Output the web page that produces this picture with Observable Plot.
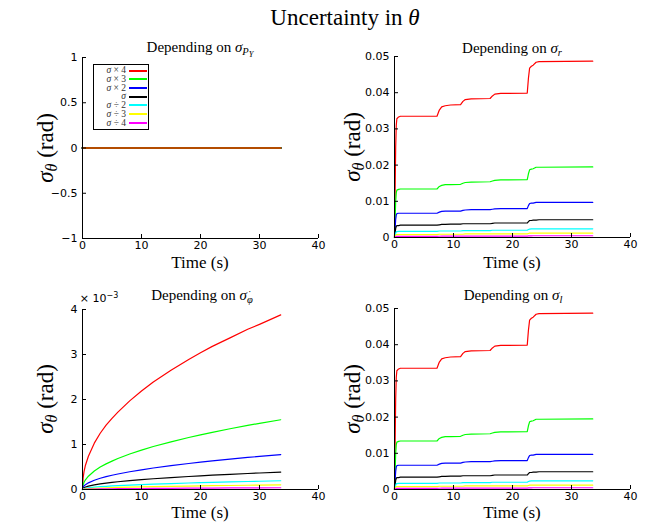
<!DOCTYPE html>
<html><head><meta charset="utf-8">
<script src="https://cdn.jsdelivr.net/npm/d3@7"></script>
<script src="https://cdn.jsdelivr.net/npm/@observablehq/plot@0.6"></script>
<style>
body{margin:0;background:#fff;}
#fig{position:relative;width:650px;height:523px;overflow:hidden;background:#fff;font-family:"Liberation Serif",serif;color:#000;}
.p{position:absolute;}
.t{position:absolute;white-space:nowrap;line-height:1;transform:translate(-50%,-50%);}
.rot{transform:translate(-50%,-50%) rotate(-90deg);}
sub{font-size:0.7em;vertical-align:-0.3em;line-height:0;}
sub sub{font-size:0.8em;vertical-align:-0.25em;}
.dot{position:relative;display:inline-block;}
.dot::after{content:"˙";position:absolute;left:0.1em;top:-0.5em;font-style:normal;}
.leg{position:absolute;border:1px solid #000;background:#fff;box-sizing:border-box;}
.le{position:absolute;font-size:9.5px;line-height:8px;height:8px;color:#333;}
.ll{position:absolute;height:2px;}
</style></head><body><div id="fig"></div><script>
// ---- data ----
const seriesNames = ["σ × 4", "σ × 3", "σ × 2", "σ", "σ ÷ 2", "σ ÷ 3", "σ ÷ 4"];
const seriesColors = ["#ff0000", "#00ff00", "#0000ff", "#000000", "#00ffff", "#ffff00", "#ff00ff"];
const xTicks = [0, 10, 20, 30, 40];

// Panel: depending on sigma_PY (all zero)
const pyTimes = [0, 33.6];
const pyRed = [0, 0], pyGreen = [0, 0], pyBlue = [0, 0], pyBlack = [0, 0],
      pyCyan = [0, 0], pyYellow = [0, 0], pyMagenta = [0, 0];
const pyTicks = [-1, -0.5, 0, 0.5, 1];

// Panel: depending on sigma_r (and sigma_l, which reads identical)
const rTimes = [0, 0.1, 0.2, 0.3, 0.4, 0.7, 1.0, 7.2, 7.6, 8.0, 8.6, 9.5, 11.2, 11.6, 12.0, 13.0, 16.2, 16.6, 17.0, 18.0, 22.5, 22.7, 22.9, 23.2, 23.5, 24.0, 24.5, 33.6];
const rRed = [0, 0.012, 0.025, 0.031, 0.0328, 0.0333, 0.0335, 0.0335, 0.0352, 0.0361, 0.0364, 0.0366, 0.0367, 0.0376, 0.0381, 0.0383, 0.0384, 0.0391, 0.0396, 0.0398, 0.0399, 0.044, 0.0468, 0.0473, 0.0476, 0.0484, 0.0486, 0.0487];
const rGreen = [0, 0.0048, 0.010, 0.0124, 0.0131, 0.0133, 0.0134, 0.0134, 0.0141, 0.0144, 0.0146, 0.0146, 0.0147, 0.0150, 0.0152, 0.0153, 0.0154, 0.0156, 0.0158, 0.0159, 0.0160, 0.0176, 0.0187, 0.0189, 0.0190, 0.0194, 0.0194, 0.0195];
const rBlue = [0, 0.0024, 0.005, 0.0062, 0.0066, 0.0067, 0.0067, 0.0067, 0.0070, 0.0072, 0.0073, 0.0073, 0.0073, 0.0075, 0.0076, 0.0077, 0.0077, 0.0078, 0.0079, 0.0080, 0.0080, 0.0088, 0.0094, 0.0095, 0.0095, 0.0097, 0.0097, 0.0097];
const rBlack = [0, 0.0012, 0.0025, 0.0031, 0.0033, 0.0033, 0.0034, 0.0034, 0.0035, 0.0036, 0.0036, 0.0037, 0.0037, 0.0038, 0.0038, 0.0038, 0.0038, 0.0039, 0.0040, 0.0040, 0.0040, 0.0044, 0.0047, 0.0047, 0.0048, 0.0048, 0.0049, 0.0049];
const rCyan = [0, 0.0006, 0.0012, 0.0016, 0.0016, 0.0017, 0.0017, 0.0017, 0.0018, 0.0018, 0.0018, 0.0018, 0.0018, 0.0019, 0.0019, 0.0019, 0.0019, 0.0020, 0.0020, 0.0020, 0.0020, 0.0022, 0.0023, 0.0024, 0.0024, 0.0024, 0.0024, 0.0024];
const rYellow = [0, 0.0003, 0.0006, 0.0008, 0.0008, 0.0008, 0.0008, 0.0008, 0.0009, 0.0009, 0.0009, 0.0009, 0.0009, 0.0009, 0.0010, 0.0010, 0.0010, 0.0010, 0.0010, 0.0010, 0.0010, 0.0011, 0.0012, 0.0012, 0.0012, 0.0012, 0.0012, 0.0012];
const rMagenta = [0, 0.0001, 0.0002, 0.0003, 0.0003, 0.0003, 0.0003, 0.0003, 0.00035, 0.00036, 0.00036, 0.00037, 0.00037, 0.00038, 0.00038, 0.00038, 0.00038, 0.00039, 0.0004, 0.0004, 0.0004, 0.00044, 0.00047, 0.00047, 0.00048, 0.00048, 0.00049, 0.00049];
const rTicks = [0, 0.01, 0.02, 0.03, 0.04, 0.05];

// Panel: depending on sigma_phidot (values in units of 1e-3 rad)
const phiTimes = [0, 0.1, 0.25, 0.5, 1, 2, 3, 4, 5, 6, 8, 10, 12, 15, 18, 20, 22, 25, 28, 30, 33.6];
const phiRed = [0, 0.25, 0.39, 0.54, 0.74, 1.03, 1.25, 1.43, 1.58, 1.72, 1.97, 2.19, 2.39, 2.65, 2.89, 3.04, 3.18, 3.37, 3.56, 3.67, 3.88];
const phiGreen = [0, 0.10, 0.155, 0.215, 0.295, 0.41, 0.50, 0.57, 0.63, 0.69, 0.79, 0.875, 0.955, 1.06, 1.155, 1.215, 1.27, 1.35, 1.425, 1.47, 1.55];
const phiBlue = [0, 0.05, 0.078, 0.108, 0.148, 0.206, 0.25, 0.286, 0.316, 0.344, 0.394, 0.438, 0.478, 0.53, 0.578, 0.608, 0.636, 0.674, 0.712, 0.734, 0.776];
const phiBlack = [0, 0.025, 0.039, 0.054, 0.074, 0.103, 0.125, 0.143, 0.158, 0.172, 0.197, 0.219, 0.239, 0.265, 0.289, 0.304, 0.318, 0.337, 0.356, 0.367, 0.388];
const phiCyan = [0, 0.012, 0.019, 0.027, 0.037, 0.051, 0.062, 0.071, 0.079, 0.086, 0.098, 0.11, 0.12, 0.132, 0.144, 0.152, 0.159, 0.168, 0.178, 0.183, 0.194];
const phiYellow = [0, 0.007, 0.01, 0.014, 0.02, 0.027, 0.033, 0.038, 0.042, 0.046, 0.052, 0.058, 0.063, 0.07, 0.077, 0.081, 0.084, 0.089, 0.094, 0.097, 0.103];
const phiMagenta = [0, 0.0025, 0.004, 0.0055, 0.0075, 0.0105, 0.0125, 0.0145, 0.016, 0.0175, 0.02, 0.022, 0.024, 0.0265, 0.029, 0.0305, 0.032, 0.034, 0.0355, 0.037, 0.039];
const phiTicks = [0, 1, 2, 3, 4];

// ---- drawing ----
const fig = document.getElementById("fig");
const minus = d => (d < 0 ? "\u2212" : "") + Math.abs(d);

function panel(o) {
  const lineMarks = o.series.map((vals, i) => ({vals, i}));
  const ordered = o.reverse ? lineMarks.slice().reverse() : lineMarks;
  const marks = ordered.map(({vals, i}) =>
    Plot.line(o.times.map((t, k) => ({t, v: vals[k]})), {
      x: "t", y: "v", stroke: seriesColors[i], strokeWidth: o.sw,
      strokeOpacity: (o.reverse && i === 0) ? 0.7 : 1
    }));
  const svg = Plot.plot({
    width: o.width, height: o.height,
    marginLeft: o.ml, marginRight: o.mr, marginTop: o.mt, marginBottom: o.mb,
    x: {domain: [0, 40]},
    y: {domain: o.ydomain},
    style: {fontFamily: "DejaVu Sans", fontSize: "11px", color: "#000", background: "transparent", overflow: "visible"},
    marks: [
      ...marks,
      Plot.ruleX([0], {stroke: "#000"}),
      Plot.ruleY([o.ydomain[0]], {stroke: "#000"}),
      Plot.axisX(xTicks, {tickSize: 4, dy: -4, tickFormat: () => "", label: null}),
      Plot.axisX(xTicks, {tickSize: 0, tickPadding: 3, label: null}),
      Plot.axisY(o.yticks, {tickSize: 4, dx: 4, tickFormat: () => "", label: null}),
      Plot.axisY(o.yticks, {tickSize: 0, tickPadding: 5, tickFormat: o.yfmt, label: null})
    ]
  });
  svg.classList.add("p");
  svg.style.left = o.left + "px";
  svg.style.top = o.top + "px";
  fig.appendChild(svg);
}

panel({left: 0, top: 30, width: 325, height: 245, ml: 82, mr: 7, mt: 27, mb: 37,
  ydomain: [-1, 1], yticks: pyTicks, yfmt: minus, times: pyTimes, sw: 2, reverse: true,
  series: [pyRed, pyGreen, pyBlue, pyBlack, pyCyan, pyYellow, pyMagenta]});
panel({left: 325, top: 30, width: 325, height: 245, ml: 69, mr: 20, mt: 26, mb: 38,
  ydomain: [0, 0.05], yticks: rTicks, yfmt: d => d === 0 ? "0" : d.toFixed(2), times: rTimes, sw: 1.2,
  series: [rRed, rGreen, rBlue, rBlack, rCyan, rYellow, rMagenta]});
panel({left: 0, top: 280, width: 325, height: 243, ml: 82, mr: 7, mt: 29, mb: 34,
  ydomain: [0, 4], yticks: phiTicks, yfmt: d => String(d), times: phiTimes, sw: 1.2,
  series: [phiRed, phiGreen, phiBlue, phiBlack, phiCyan, phiYellow, phiMagenta]});
panel({left: 325, top: 280, width: 325, height: 243, ml: 69, mr: 20, mt: 28, mb: 34,
  ydomain: [0, 0.05], yticks: rTicks, yfmt: d => d === 0 ? "0" : d.toFixed(2), times: rTimes, sw: 1.2,
  series: [rRed, rGreen, rBlue, rBlack, rCyan, rYellow, rMagenta]});

function text(html, x, y, size, cls) {
  const d = document.createElement("div");
  d.className = "t" + (cls ? " " + cls : "");
  d.style.left = x + "px"; d.style.top = y + "px"; d.style.fontSize = size + "px";
  d.innerHTML = html;
  fig.appendChild(d);
  return d;
}
text("Uncertainty in <i>θ</i>", 345, 17, 23);
text("Depending on <i>σ</i><sub><i>P</i><sub><i>Y</i></sub></sub>", 200, 48, 15);
text("Depending on <i>σ</i><sub><i>r</i></sub>", 512, 48, 15);
text("Depending on <i>σ</i><sub><i class='dot'>φ</i></sub>", 202, 295, 15);
text("Depending on <i>σ</i><sub><i>l</i></sub>", 513, 295, 15);
for (const [x, y] of [[200, 262], [512, 262], [200, 512], [512, 512]]) text("Time (s)", x, y, 17);
for (const [x, y] of [[45, 148], [352, 147], [45, 399], [352, 399]]) text("<i>σ</i><sub><i>θ</i></sub> (rad)", x, y, 23, "rot");
const ex = text("× 10<sup style='font-size:8px;vertical-align:4px'>−3</sup>", 99, 298, 11);
ex.style.fontFamily = "DejaVu Sans";

// legend
const leg = document.createElement("div");
leg.className = "leg";
Object.assign(leg.style, {left: "93px", top: "64px", width: "56px", height: "66px"});
fig.appendChild(leg);
seriesNames.forEach((name, i) => {
  const cy = 5.5 + i * 8.7;
  const e = document.createElement("div");
  e.className = "le";
  e.style.right = (56 - 34) + "px";
  e.style.top = (cy - 4.2) + "px";
  e.innerHTML = "<i>σ</i>" + name.slice(1);
  leg.appendChild(e);
  const l = document.createElement("div");
  l.className = "ll";
  Object.assign(l.style, {left: "35px", width: "18px", top: (cy - 1) + "px", background: seriesColors[i]});
  leg.appendChild(l);
});
</script></body></html>
